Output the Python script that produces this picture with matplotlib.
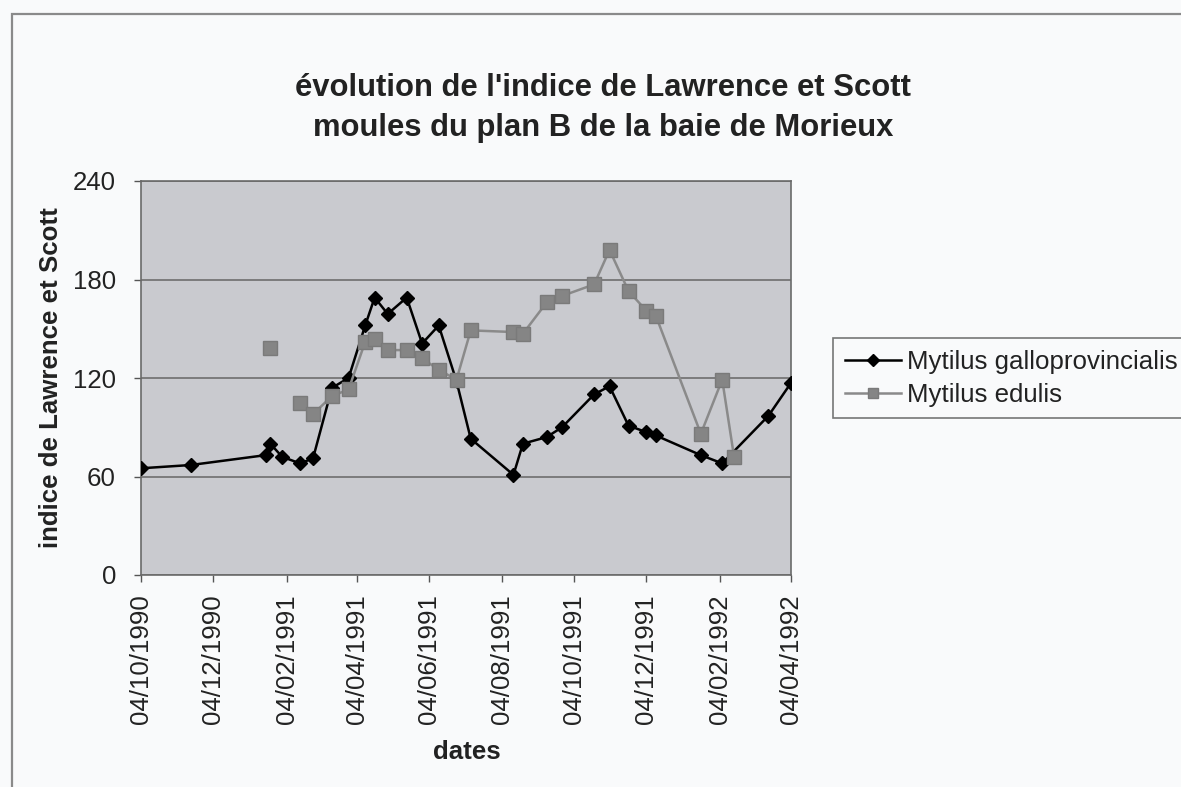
import datetime

import matplotlib
matplotlib.use("Agg")
import matplotlib.dates as mdates
import matplotlib.pyplot as plt
import numpy as np
from matplotlib.patches import Rectangle

plt.rcParams["font.family"] = ["Liberation Sans", "DejaVu Sans"]

# Mytilus galloprovincialis
gallo_dates = ["1990-10-04", "1990-11-15", "1991-01-17", "1991-01-21", "1991-01-31",
               "1991-02-15", "1991-02-26", "1991-03-14", "1991-03-28", "1991-04-11",
               "1991-04-19", "1991-04-30", "1991-05-16", "1991-05-29", "1991-06-12",
               "1991-06-27", "1991-07-09", "1991-08-14", "1991-08-22", "1991-09-11",
               "1991-09-24", "1991-10-21", "1991-11-03", "1991-11-19", "1991-12-04",
               "1991-12-12", "1992-01-19", "1992-02-06", "1992-03-16", "1992-04-04"]
gallo_vals = [65, 67, 73, 80, 72, 68, 71, 114, 120, 152,
              169, 159, 169, 141, 152, 118, 83, 61, 80, 84,
              90, 110, 115, 91, 87, 85, 73, 68, 97, 117]

# Mytilus edulis (NaN = no sample, breaks the line)
edulis_dates = ["1991-01-21", "1991-01-31", "1991-02-15", "1991-02-26", "1991-03-14",
                "1991-03-28", "1991-04-11", "1991-04-19", "1991-04-30", "1991-05-16",
                "1991-05-29", "1991-06-12", "1991-06-27", "1991-07-09", "1991-08-14",
                "1991-08-22", "1991-09-11", "1991-09-24", "1991-10-21", "1991-11-03",
                "1991-11-19", "1991-12-04", "1991-12-12", "1992-01-19", "1992-02-06",
                "1992-02-16"]
edulis_vals = [138, np.nan, 105, 98, 109, 113, 142, 144, 137, 137,
               132, 125, 119, 149, 148, 147, 166, 170, 177, 198,
               173, 161, 158, 86, 119, 72]

y_ticks = [0, 60, 120, 180, 240]


def to_dt(lst):
    return [datetime.datetime.strptime(d, "%Y-%m-%d") for d in lst]


W, H = 1181, 787
bg = "#f9fafb"
fig = plt.figure(figsize=(W / 100, H / 100), dpi=100, facecolor=bg)

# outer chart border (runs off the scan to the right and bottom)
fig.patches.append(Rectangle((12 / W, -0.05), 1.2, 1 - 14 / H + 0.05,
                             transform=fig.transFigure, fill=False,
                             edgecolor="#8a8a8a", linewidth=1.6))

ax = fig.add_axes([141 / W, 1 - 575 / H, 650 / W, 394 / H])
ax.set_facecolor("#c9cacf")

ax.plot(to_dt(gallo_dates), gallo_vals, color="black", linewidth=1.8,
        marker="D", markersize=7.5, markerfacecolor="black",
        markeredgecolor="black", label="Mytilus galloprovincialis", zorder=3)
ax.plot(to_dt(edulis_dates), edulis_vals, color="#8a8a8a", linewidth=1.8,
        marker="s", markersize=10.5, markerfacecolor="#858585",
        markeredgecolor="#7a7a7a", label="Mytilus edulis", zorder=4)

ax.set_ylim(0, 240)
ax.set_yticks(y_ticks)
ax.set_xlim(datetime.datetime(1990, 10, 4), datetime.datetime(1992, 4, 4))
ax.xaxis.set_major_locator(mdates.MonthLocator(bymonth=[2, 4, 6, 8, 10, 12], bymonthday=4))
ax.xaxis.set_major_formatter(mdates.DateFormatter("%d/%m/%Y"))

ax.grid(axis="y", color="#6e6e6e", linewidth=1.2)
ax.set_axisbelow(True)
for side in ax.spines.values():
    side.set_color("#6a6a6a")
    side.set_linewidth(1.2)

ax.tick_params(axis="both", direction="out", length=5, width=1, color="#555555",
               labelsize=18.6, labelcolor="#222222")
ax.tick_params(axis="y", pad=13)
ax.tick_params(axis="x", pad=9)
plt.setp(ax.get_xticklabels(), rotation=90)

fig.text(603 / W, 1 - 88 / H, "évolution de l'indice de Lawrence et Scott",
         ha="center", va="center", fontsize=22.3, fontweight="bold", color="#222222")
fig.text(603 / W, 1 - 128 / H, "moules du plan B de la baie de Morieux",
         ha="center", va="center", fontsize=22.3, fontweight="bold", color="#222222")
fig.text(51 / W, 1 - 378 / H, "indice de Lawrence et Scott", rotation=90,
         ha="center", va="center", fontsize=18.6, fontweight="bold", color="#222222")
fig.text(467 / W, 1 - 752 / H, "dates", ha="center", va="center",
         fontsize=18.6, fontweight="bold", color="#222222")

leg = fig.legend(loc="upper left", bbox_to_anchor=(833 / W, 1 - 338 / H),
                 fontsize=18.6, frameon=True, fancybox=False, borderpad=0.45,
                 handlelength=2.2, handletextpad=0.2, labelspacing=0.35,
                 borderaxespad=0)
leg.get_frame().set_edgecolor("#555555")
leg.get_frame().set_facecolor(bg)
leg.get_frame().set_linewidth(1.2)
for t in leg.get_texts():
    t.set_color("#222222")
for h in leg.legend_handles:
    h.set_markersize(h.get_markersize() * 0.75)

fig.savefig("out.png", dpi=100, facecolor=bg)
